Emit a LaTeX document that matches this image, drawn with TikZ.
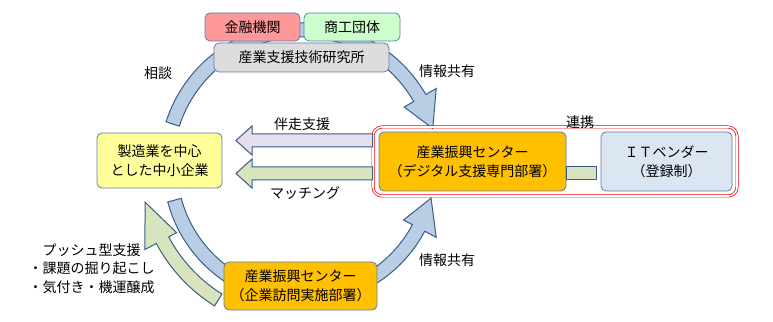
\documentclass[tikz,border=0pt]{standalone}
\usepackage{fontspec}
\setmainfont{Noto Sans CJK JP}
\usepackage{xcolor}
\usepackage{tikz}
\usetikzlibrary{calc, positioning}
\definecolor{rimblue}{RGB}{56,93,138}
\definecolor{ringblue}{RGB}{185,205,229}
\definecolor{pushgreen}{RGB}{215,228,189}
\definecolor{softlav}{RGB}{230,224,236}
\definecolor{boxline}{RGB}{95,125,165}
\definecolor{finpink}{RGB}{255,153,153}
\definecolor{tradegreen}{RGB}{204,255,204}
\definecolor{labgray}{RGB}{221,221,221}
\definecolor{smeyellow}{RGB}{255,255,153}
\definecolor{centerorange}{RGB}{255,192,0}
\definecolor{vendorblue}{RGB}{220,230,242}

% flat block arrow: tail anchor, tip coordinate, fill
\newcommand{\flatarrow}[3]{%
  \draw[blockline, fill=#3] let \p1=(#1), \p2=(#2) in
    (\x1,\y2+6.5pt) -- (\x2+16pt,\y2+6.5pt) -- (\x2+16pt,\y2+14.5pt) -- (\x2,\y2)
    -- (\x2+16pt,\y2-14.5pt) -- (\x2+16pt,\y2-6.5pt) -- (\x1,\y2-6.5pt) -- cycle;}

\begin{document}
\begin{tikzpicture}[
  x=1pt, y=1pt,
  every node/.style={font=\fontsize{14}{19}\selectfont, align=center},
  blockline/.style={draw=rimblue, line width=1pt},
  org/.style={rectangle, draw=boxline, line width=0.8pt, rounded corners=5pt,
              inner sep=2pt},
  label/.style={inner sep=1pt},
]
\useasboundingbox (0,0) rectangle (773,321);

\coordinate (ctr) at (302,155);
\coordinate (tipA) at (236,180.5);
\coordinate (tipB) at (236,147.5);

% ── Cycle arrows ──
\draw[blockline, fill=ringblue] ([shift={(162:143)}]ctr) arc[start angle=162, end angle=30, radius=143]
  -- ([shift={(30:155)}]ctr) -- ([shift={(16:136)}]ctr) -- ([shift={(30:118)}]ctr)
  -- ([shift={(30:129)}]ctr) arc[start angle=30, end angle=162, radius=129] -- cycle;
\draw[blockline, fill=ringblue] ([shift={(195:139)}]ctr) arc[start angle=195, end angle=332, radius=139]
  -- ([shift={(332:152)}]ctr) -- ([shift={(346:133)}]ctr) -- ([shift={(332:115)}]ctr)
  -- ([shift={(332:125)}]ctr) arc[start angle=332, end angle=195, radius=125] -- cycle;
\draw[blockline, fill=pushgreen] ([shift={(238:165)}]ctr) arc[start angle=238, end angle=208, radius=165]
  -- ([shift={(208:178)}]ctr) -- ([shift={(193:161)}]ctr) -- ([shift={(208:142)}]ctr)
  -- ([shift={(208:151)}]ctr) arc[start angle=208, end angle=238, radius=151] -- cycle;

% Top organisations
\node[org, fill=finpink, minimum width=95, minimum height=28] (fin) at (252.5,294) {金融機関};
\node[org, fill=tradegreen, minimum width=96, minimum height=28] (trade) at (352,294) {商工団体};
\node[org, fill=labgray, minimum width=175, minimum height=29] (lab) at (301.5,263.5) {産業支援技術研究所};

% Companies and centres
\node[org, fill=smeyellow, minimum width=125, minimum height=55] (sme) at (159.5,160.5) {製造業を中心\\とした中小企業};
\node[draw=red, double=white, double distance=1.6pt, line width=0.7pt, rounded corners=9pt,
      minimum width=364, minimum height=69] (redbox) at (555,159.5) {};

% ── Flows to companies ──
\flatarrow{redbox.west}{tipA}{softlav}
\flatarrow{redbox.west}{tipB}{pushgreen}

\node[org, fill=centerorange, minimum width=187, minimum height=59] (dept) at (472.5,159.5) {産業振興センター\\（デジタル支援専門部署）};
\node[org, fill=vendorblue, minimum width=131, minimum height=59] (vendor) at (666.5,159.5) {ＩＴベンダー\\（登録制）};
\draw[blockline, fill=pushgreen] let \p1=(dept.east), \p2=(vendor.west) in
  (\x1,141) rectangle (\x2-4pt,154);
\node[org, fill=centerorange, minimum width=153, minimum height=48] (visit) at (300.5,35) {産業振興センター\\（企業訪問実施部署）};

% Labels
\node[label] (soudan) at (158,248) {相談};
\node[label] (shareA) at (447,250) {情報共有};
\node[label] (shareB) at (447,61) {情報共有};
\node[label] (renkei) at (580,199) {連携};
\node[label] (bansou) at (302,197) {伴走支援};
\node[label] (match) at (305,128) {マッチング};
\node[label, font=\fontsize{14}{18.5}\selectfont] (push) at (91.5,52.5) {プッシュ型支援\\・課題の掘り起こし\\・気付き・機運醸成};

\end{tikzpicture}
\end{document}
